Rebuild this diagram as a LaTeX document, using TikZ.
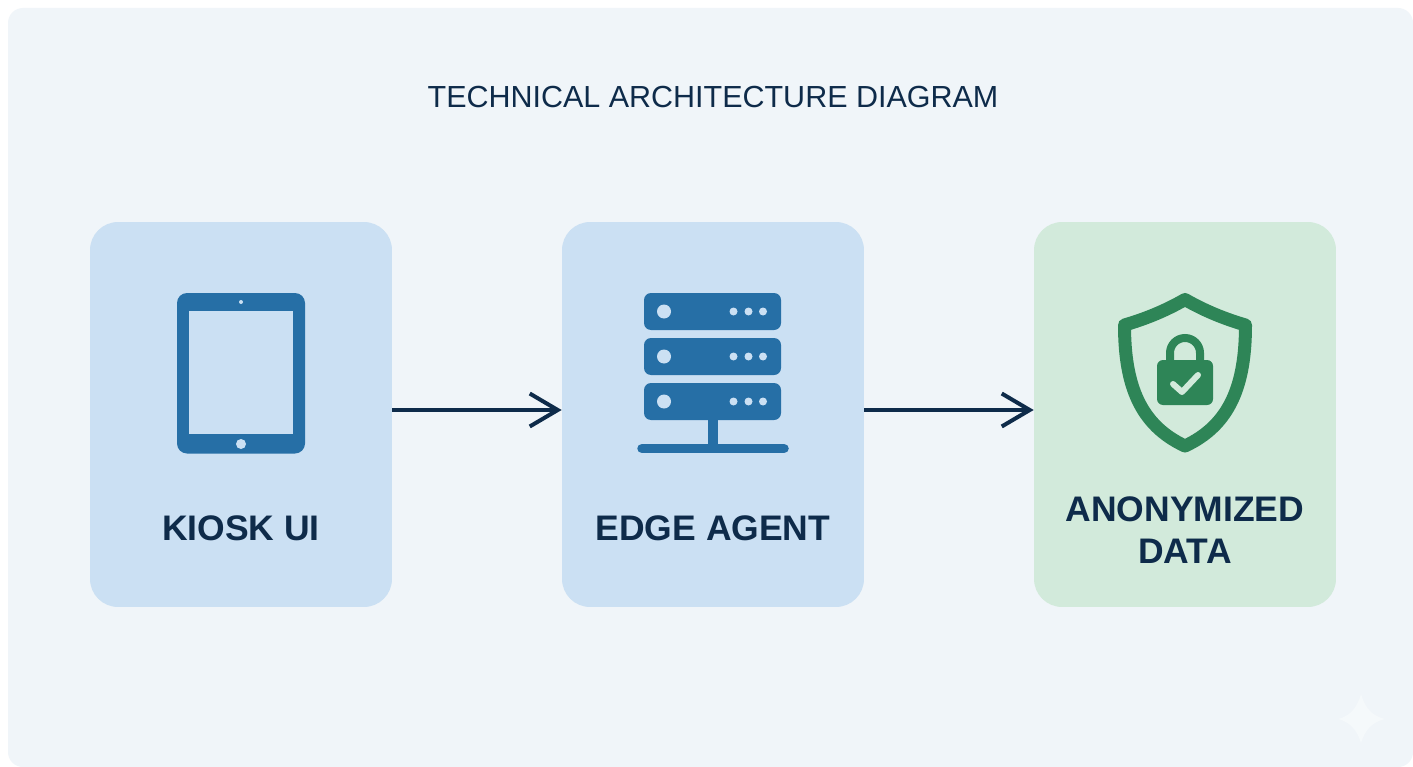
\documentclass[tikz,border=0pt]{standalone}
\usepackage{fontspec}
\setmainfont{Liberation Sans}
\usepackage{tikz}
\usetikzlibrary{arrows.meta, positioning}
\definecolor{pagebg}{HTML}{F0F5F9}
\definecolor{bluebox}{HTML}{CBE0F3}
\definecolor{greenbox}{HTML}{D2EADB}
\definecolor{iconblue}{HTML}{266FA6}
\definecolor{icongreen}{HTML}{2E8557}
\definecolor{navy}{HTML}{0E2B4A}
\definecolor{starcol}{HTML}{F5F9FB}
\tikzset{%
  box/.style={rectangle, rounded corners=0.56cm, minimum width=6.04cm, minimum height=7.7cm, inner sep=0pt},
  bluecard/.style={box, fill=bluebox},
  greencard/.style={box, fill=greenbox},
  label/.style={font=\fontsize{20.2}{23.8}\selectfont\bfseries, text=navy, align=center},
  heading/.style={font=\fontsize{17.35}{22}\selectfont, text=navy},
  line/.style={draw=navy, line width=0.065cm, -{Straight Barb[length=0.56cm, width=0.66cm, line width=0.08cm]}},
  shieldline/.style={draw=icongreen, line width=0.26cm, line join=round}}

\begin{document}
\begin{tikzpicture}[x=0.02cm, y=-0.02cm]
    \useasboundingbox (0, 0) rectangle (1413, 767);
    \fill [white] (0, 0) rectangle (1413, 767);
    \fill [pagebg, rounded corners=0.3cm] (8, 8) rectangle (1413, 767);

    \node [heading] (title) at (713, 97) {TECHNICAL ARCHITECTURE DIAGRAM};

    \node [bluecard] (kiosk) at (241, 414.5) {};
    \node [bluecard] (edge) at (713, 414.5) {};
    \node [greencard] (anon) at (1185, 414.5) {};

    \node [label] (kiosklabel) at (241, 528) {KIOSK UI};
    \node [label] (edgelabel) at (713, 528) {EDGE AGENT};
    \node [label] (anonlabel) at (1185, 530) {ANONYMIZED\\DATA};

    \path [line] ([yshift=0.09cm]kiosk.east) -- ([yshift=0.09cm]edge.west);
    \path [line] ([yshift=0.09cm]edge.east) -- ([yshift=0.09cm]anon.west);

    % tablet
    \fill [iconblue, rounded corners=0.2cm] (177, 293) rectangle (305, 453.5);
    \fill [bluebox] (189, 311) rectangle (293, 434);
    \fill [bluebox] (241, 302) circle (2);
    \fill [bluebox] (241, 444) circle (5);

    % server
    \foreach \y in {293, 338, 383} {
      \fill [iconblue, rounded corners=0.14cm] (644, \y) rectangle (781, \y + 37);
      \fill [bluebox] (664, \y + 18.5) circle (7);
      \foreach \x in {733.5, 748.5, 763} {
        \fill [bluebox] (\x, \y + 18.5) circle (4);
      }
    }
    \fill [iconblue] (708, 420) rectangle (718, 446);
    \draw [iconblue, line width=0.19cm, line cap=round] (642, 448.5) -- (784, 448.5);

    % shield
    \draw [shieldline] (1185, 299.5) .. controls (1165, 311) and (1145, 319) .. (1124.5, 325)
      .. controls (1124.5, 385) and (1140, 425) .. (1185, 446)
      .. controls (1230, 425) and (1245.5, 385) .. (1245.5, 325)
      .. controls (1225, 319) and (1205, 311) .. cycle;
    \draw [icongreen, line width=0.16cm] (1170, 365) -- (1170, 353) arc (180:360:15) -- (1200, 365);
    \fill [icongreen, rounded corners=0.12cm] (1157, 360) rectangle (1213, 405);
    \draw [greenbox, line width=0.12cm, line cap=round, line join=round] (1173, 384) -- (1182, 392) -- (1198, 375);

    % corner star
    \fill [starcol] (1361, 694) .. controls (1365, 708) and (1372, 716) .. (1385, 719)
      .. controls (1372, 722) and (1365, 730) .. (1361, 743)
      .. controls (1357, 730) and (1350, 722) .. (1338, 719)
      .. controls (1350, 716) and (1357, 708) .. cycle;
\end{tikzpicture}
\end{document}
